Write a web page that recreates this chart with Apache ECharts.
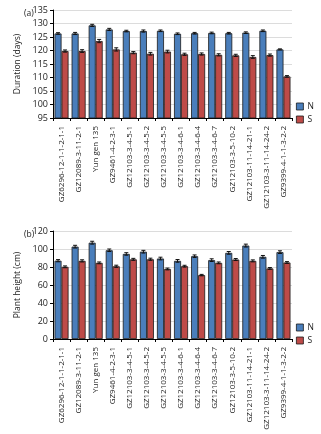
<!DOCTYPE html>
<html>
<head>
<meta charset="utf-8">
<script src="https://cdn.jsdelivr.net/npm/echarts@6/dist/echarts.min.js"></script>
<style>
  html, body { margin: 0; padding: 0; background: #fff; }
  #chart { width: 321px; height: 434px; }
</style>
</head>
<body>
<div id="chart"></div>
<script>
// Breeding lines
var lines = [
  'GZ6296-12-1-1-2-1-1', 'GZ12089-3-11-2-1', 'Yun gen 135', 'GZ9461-4-2-3-1',
  'GZ12103-3-4-5-1', 'GZ12103-3-4-5-2', 'GZ12103-3-4-5-5', 'GZ12103-3-4-6-1',
  'GZ12103-3-4-6-4', 'GZ12103-3-4-6-7', 'GZ12103-3-5-10-2', 'GZ12103-11-14-21-1',
  'GZ12103-3-11-14-24-2', 'GZ9399-4-1-1-3-2-2'
];

// (a) growth duration, days
var durationN = [126.3, 126.3, 129.3, 127.8, 127.2, 127.2, 127.3, 126.2, 126.4, 126.5, 126.4, 126.6, 127.3, 120.4];
var durationS = [119.8, 119.8, 123.5, 120.4, 119.2, 118.8, 119.6, 118.6, 118.7, 118.4, 118.2, 117.6, 118.3, 110.4];
var durationErrN = [0.3, 0.4, 0.4, 0.4, 0.3, 0.4, 0.3, 0.3, 0.3, 0.3, 0.3, 0.3, 0.3, 0.2];
var durationErrS = [0.4, 0.5, 0.6, 0.6, 0.4, 0.5, 0.5, 0.4, 0.4, 0.4, 0.4, 0.5, 0.4, 0.3];

// (b) plant height, cm
var heightN = [87.0, 102.6, 107.0, 98.6, 94.5, 97.0, 89.4, 86.8, 92.0, 87.6, 95.7, 103.8, 91.3, 96.5];
var heightS = [80.2, 86.8, 84.6, 80.8, 88.5, 88.6, 77.8, 80.9, 71.0, 84.6, 88.3, 86.8, 78.4, 85.0];
var heightErrN = [1.2, 1.5, 1.6, 1.4, 1.4, 1.5, 1.5, 1.5, 1.4, 1.5, 1.5, 1.6, 1.5, 1.5];
var heightErrS = [1.0, 1.2, 1.0, 1.2, 1.1, 1.2, 1.0, 1.0, 0.8, 1.0, 1.1, 1.1, 1.0, 1.0];

var durationTicks = { min: 95, max: 135, interval: 5 };
var heightTicks = { min: 0, max: 120, interval: 20 };

var BLUE = '#4a7ebb';
var RED = '#be4b48';
var INK = '#222';
var FONT = 'Open Sans';
var CAT_GAP = 0.18;

function errorBarSeries(name, values, errs, side, axisIdx) {
  var rows = values.map(function (v, i) { return [i, v, errs[i]]; });
  return {
    type: 'custom',
    name: name + ' err',
    xAxisIndex: axisIdx,
    yAxisIndex: axisIdx,
    z: 5,
    silent: true,
    data: rows,
    encode: { x: 0, y: 1 },
    renderItem: function (params, api) {
      var idx = api.value(0);
      var v = api.value(1);
      var e = api.value(2);
      var cw = api.size([1, 0])[0];
      var bw = cw * (1 - CAT_GAP) / 2;
      var c = api.coord([idx, v]);
      var x = c[0] + side * bw / 2;
      var hi = api.coord([idx, v + e])[1];
      var lo = api.coord([idx, v - e])[1];
      var cap = 2;
      var st = { stroke: '#111', lineWidth: 1 };
      return {
        type: 'group',
        children: [
          { type: 'line', shape: { x1: x, y1: hi, x2: x, y2: lo }, style: st },
          { type: 'line', shape: { x1: x - cap, y1: hi, x2: x + cap, y2: hi }, style: st },
          { type: 'line', shape: { x1: x - cap, y1: lo, x2: x + cap, y2: lo }, style: st }
        ]
      };
    }
  };
}

function barSeries(name, values, color, axisIdx) {
  return {
    type: 'bar',
    name: name,
    xAxisIndex: axisIdx,
    yAxisIndex: axisIdx,
    data: values,
    barGap: '0%',
    barCategoryGap: (CAT_GAP * 100) + '%',
    itemStyle: { color: color, borderColor: '#1a1a1a', borderWidth: 0.8 }
  };
}

function catAxis(idx) {
  return {
    type: 'category',
    gridIndex: idx,
    data: lines,
    axisLine: { lineStyle: { color: '#000', width: 1 } },
    axisTick: { show: true, length: 3, lineStyle: { color: '#000' } },
    axisLabel: {
      rotate: 90, interval: 0, margin: 8,
      fontSize: 8, color: INK, fontFamily: FONT
    }
  };
}

function valAxis(idx, ticks, title) {
  return {
    type: 'value',
    gridIndex: idx,
    min: ticks.min, max: ticks.max, interval: ticks.interval,
    name: title,
    nameLocation: 'middle',
    nameGap: 21,
    nameTextStyle: { fontSize: 8.5, color: INK, fontFamily: FONT },
    axisLine: { show: true, lineStyle: { color: '#000', width: 1 } },
    axisTick: { show: true, length: 3, lineStyle: { color: '#000' } },
    axisLabel: { fontSize: 9, color: INK, margin: 5, fontFamily: FONT },
    splitLine: { lineStyle: { color: '#dcdcdc', width: 1 } }
  };
}

function legendAt(top) {
  return {
    orient: 'vertical',
    left: 291,
    top: top,
    itemWidth: 7,
    itemHeight: 7,
    itemGap: 4,
    icon: 'rect',
    data: ['N', 'S'],
    textStyle: { fontSize: 8.5, color: INK, padding: [0, 0, 0, -1], fontFamily: FONT },
    itemStyle: { borderColor: '#1a1a1a', borderWidth: 0.8 }
  };
}

var chart = echarts.init(document.getElementById('chart'), null, { renderer: 'canvas' });
chart.setOption({
  animation: false,
  backgroundColor: '#fff',
  title: [
    { text: '(a)', left: 19, top: 4, textStyle: { fontSize: 8.5, fontWeight: 'normal', color: INK, fontFamily: FONT } },
    { text: '(b)', left: 19, top: 225, textStyle: { fontSize: 8.5, fontWeight: 'normal', color: INK, fontFamily: FONT } }
  ],
  legend: [legendAt(97), legendAt(318)],
  grid: [
    { left: 53, top: 10, width: 239, height: 108 },
    { left: 53, top: 231, width: 239, height: 108 }
  ],
  xAxis: [catAxis(0), catAxis(1)],
  yAxis: [
    valAxis(0, durationTicks, 'Duration (days)'),
    valAxis(1, heightTicks, 'Plant height (cm)')
  ],
  series: [
    barSeries('N', durationN, BLUE, 0),
    barSeries('S', durationS, RED, 0),
    barSeries('N', heightN, BLUE, 1),
    barSeries('S', heightS, RED, 1),
    errorBarSeries('N', durationN, durationErrN, -1, 0),
    errorBarSeries('S', durationS, durationErrS, 1, 0),
    errorBarSeries('N', heightN, heightErrN, -1, 1),
    errorBarSeries('S', heightS, heightErrS, 1, 1)
  ]
});
</script>
</body>
</html>
